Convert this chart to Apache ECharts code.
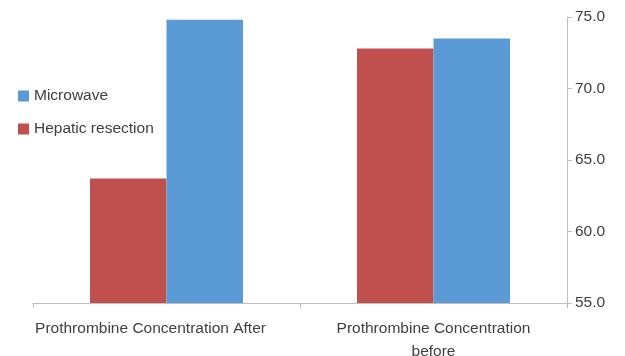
<!DOCTYPE html>
<html>
<head>
<meta charset="utf-8">
<script src="https://cdn.jsdelivr.net/npm/echarts@6/dist/echarts.min.js"></script>
<style>html,body{margin:0;padding:0;background:#fff}#c{width:625px;height:356px}</style>
</head>
<body>
<div id="c"></div>
<script>
var categories = ['Prothrombine Concentration After', 'Prothrombine Concentration\nbefore'];
var hepaticResection = [63.7, 72.8];
var microwave = [74.8, 73.5];
var yTicks = { min: 55, max: 75, interval: 5 };

var chart = echarts.init(document.getElementById('c'), null, { renderer: 'canvas' });
var font = 'Liberation Sans, Arial, sans-serif';
chart.setOption({
  animation: false,
  textStyle: { fontFamily: font },
  grid: { left: 33, right: 58, top: 17, bottom: 53, containLabel: false, outerBoundsMode: 'none' },
  legend: {
    orient: 'vertical', left: 13, top: 83,
    data: ['Microwave', 'Hepatic resection'],
    itemWidth: 11, itemHeight: 11, itemGap: 17,
    icon: 'rect',
    textStyle: { fontSize: 15.5, color: '#404040', fontFamily: font }
  },
  xAxis: {
    type: 'category', data: categories,
    axisLine: { lineStyle: { color: '#BFBFBF' } },
    axisTick: { show: true, length: 5, lineStyle: { color: '#BFBFBF' } },
    axisLabel: {
      fontSize: 15.5, color: '#404040', margin: 14, lineHeight: 23, fontFamily: font, interval: 0,
      formatter: function (v, i) { return i === 0 ? '{a|' + v + '}' : v; },
      rich: { a: { fontSize: 15.5, color: '#404040', fontFamily: font, padding: [0, 32, 0, 0] } }
    }
  },
  yAxis: {
    type: 'value', position: 'right',
    min: yTicks.min, max: yTicks.max, interval: yTicks.interval,
    splitLine: { show: false },
    axisLine: { show: true, lineStyle: { color: '#BFBFBF' } },
    axisTick: { show: true, length: 5, lineStyle: { color: '#BFBFBF' } },
    axisLabel: { fontSize: 15.5, color: '#404040', margin: 8, fontFamily: font, formatter: function (v) { return v.toFixed(1); } }
  },
  series: [
    { name: 'Hepatic resection', type: 'bar', data: hepaticResection, itemStyle: { color: '#C0504D' }, barGap: '0%', barCategoryGap: '42.7%' },
    { name: 'Microwave', type: 'bar', data: microwave, itemStyle: { color: '#5B9BD5' }, barGap: '0%', barCategoryGap: '42.7%' }
  ]
});
</script>
</body>
</html>
